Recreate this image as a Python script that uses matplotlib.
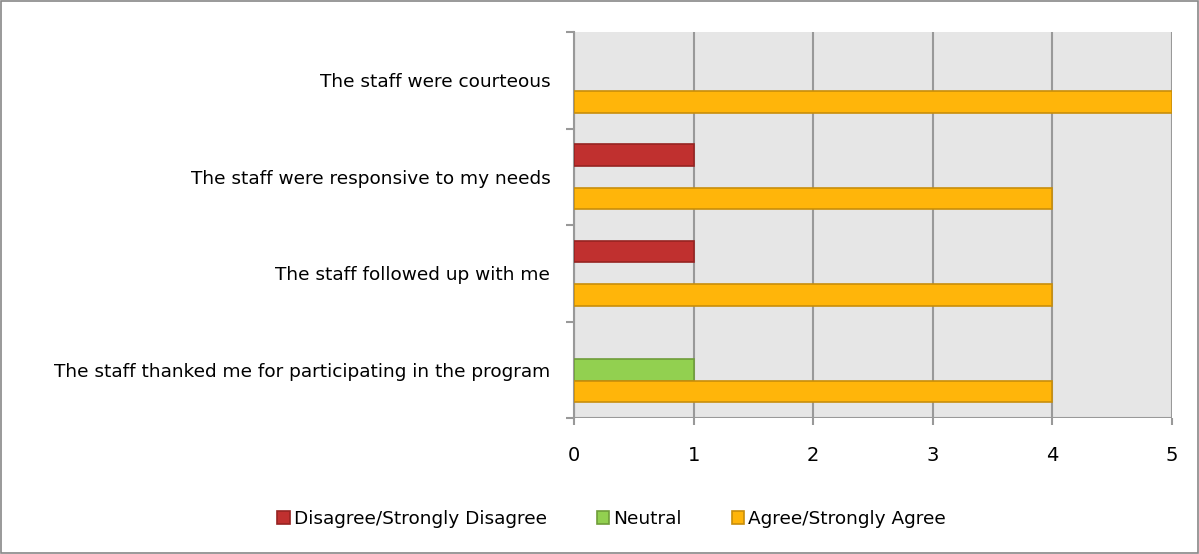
import numpy as np
import matplotlib
matplotlib.use("Agg")
import matplotlib.pyplot as plt
from matplotlib.patches import Rectangle

# survey items, top to bottom
categories = ["The staff were courteous",
              "The staff were responsive to my needs",
              "The staff followed up with me",
              "The staff thanked me for participating in the program"]
series_names = ["Disagree/Strongly Disagree", "Neutral", "Agree/Strongly Agree"]
disagree = [0, 1, 1, 0]
neutral = [0, 0, 0, 1]
agree = [5, 4, 4, 4]

colors = ["#C0302F", "#92D050", "#FFB50A"]
edges = ["#962321", "#6F9D3A", "#C88E0B"]

plt.rcParams['font.family'] = ['DejaVu Sans']

fig = plt.figure(figsize=(11.99, 5.54), dpi=100)
ax = fig.add_axes([0.4787, 0.2455, 0.4988, 0.6967])
ax.set_facecolor("#E6E6E6")

y = np.arange(len(categories))
h = 0.225
for i, (vals, name) in enumerate(zip([disagree, neutral, agree], series_names)):
    vals = np.array(vals, dtype=float)
    keep = vals > 0
    ax.barh(y[keep] + (i - 1) * h, vals[keep], height=h, color=colors[i],
            edgecolor=edges[i], linewidth=1.2, label=name, zorder=3)

ax.set_xlim(0, 5)
ax.set_ylim(len(categories) - 0.5, -0.5)
ax.set_xticks(range(6))
ax.tick_params(axis='x', length=5, color="#999999", width=1.5, labelsize=14, pad=15)

ax.set_yticks(np.arange(len(categories) + 1) - 0.5)
ax.set_yticklabels([])
ax.set_yticks(y, minor=True)
ax.set_yticklabels(categories, minor=True, fontsize=13.3)
ax.tick_params(axis='y', which='major', length=6, color="#999999", width=1.5)
ax.tick_params(axis='y', which='minor', length=0, pad=17)

ax.grid(axis='x', color="#999999", linewidth=1.5, zorder=1)
for s in ["top", "right", "bottom"]:
    ax.spines[s].set_visible(False)
ax.spines["left"].set_color("#999999")
ax.spines["left"].set_linewidth(1.5)
ax.axhline(len(categories) - 0.5, color="#999999", linewidth=1.5, zorder=2)

ax.legend(loc="center", bbox_to_anchor=(0.51, 0.063), bbox_transform=fig.transFigure,
          ncol=3, frameon=False, fontsize=13.3, handlelength=0.7, handleheight=0.7,
          handletextpad=0.2, columnspacing=2.7)

fig.patches.append(Rectangle((0.001, 0.001), 0.998, 0.997, transform=fig.transFigure,
                             fill=False, edgecolor="#888888", linewidth=1.2))

fig.savefig("out.png", dpi=100)
